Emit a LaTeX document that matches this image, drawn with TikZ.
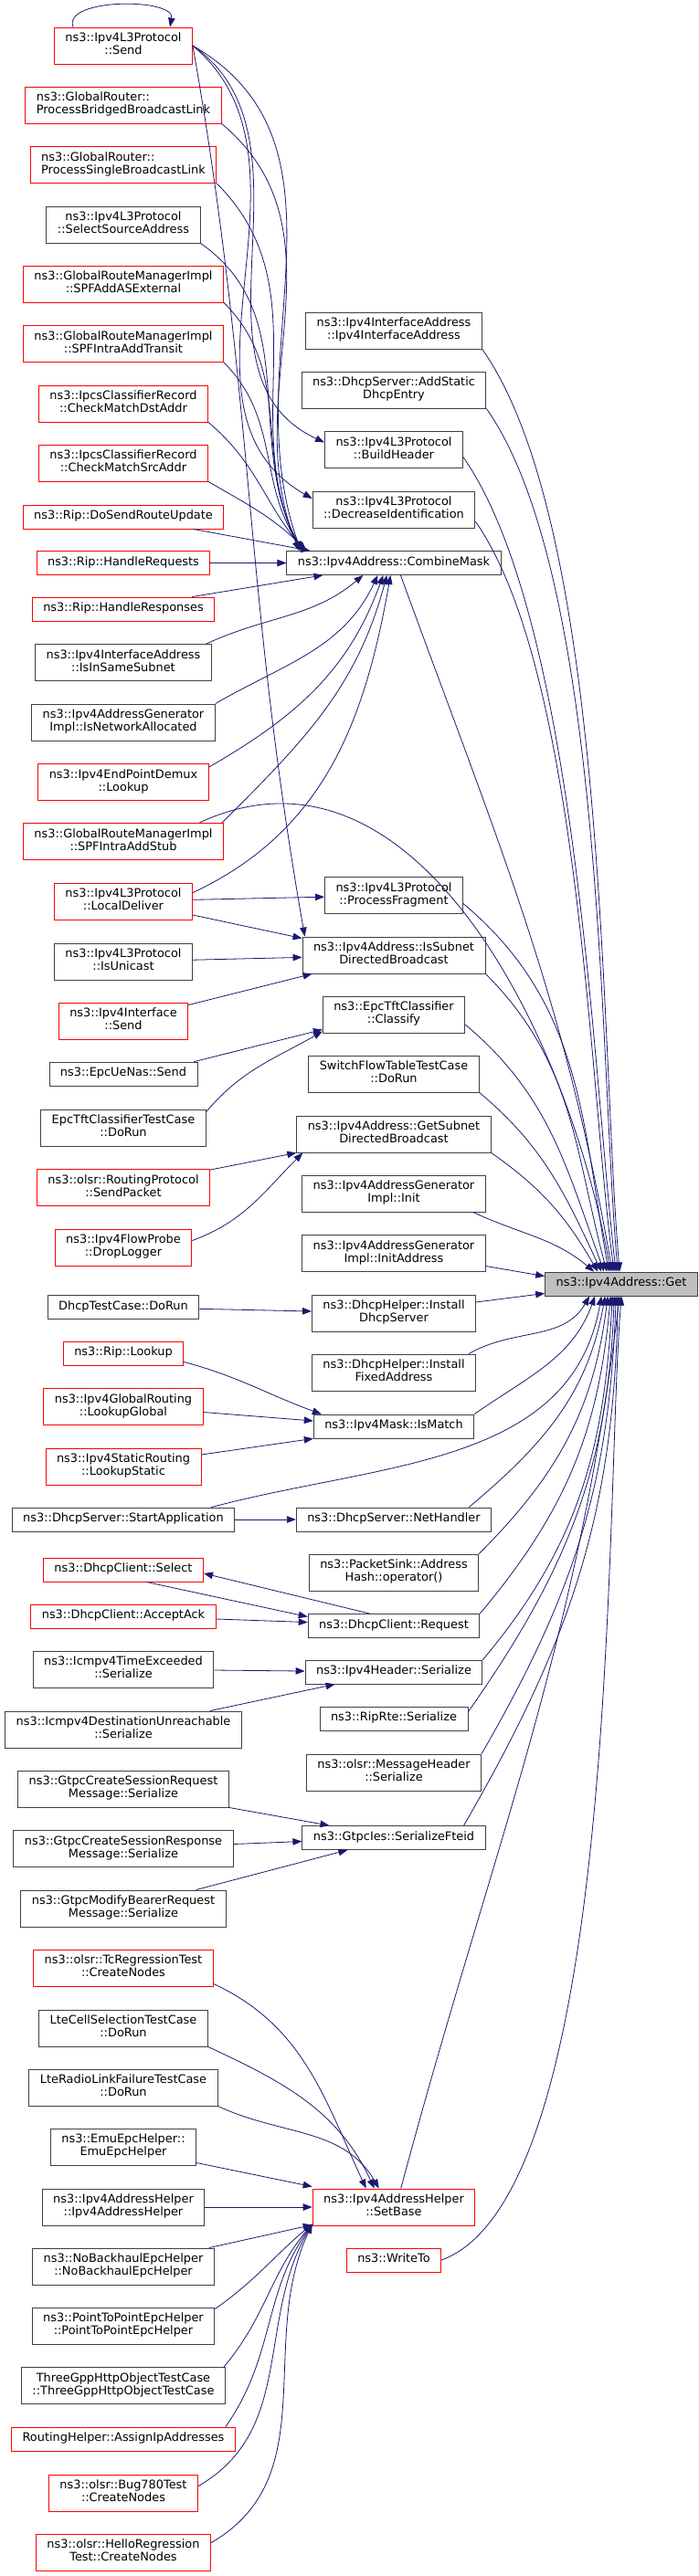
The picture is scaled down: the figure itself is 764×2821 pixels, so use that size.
\documentclass[tikz,border=0pt]{standalone}
\usepackage{fontspec}
\setmainfont{DejaVu Sans}
\usetikzlibrary{arrows.meta}
\definecolor{edgeblue}{RGB}{25,25,112}
\definecolor{boxgray}{RGB}{64,64,64}
\begin{document}
\begin{tikzpicture}[x=1pt, y=1pt,
	fn/.style={rectangle, draw=boxgray, line width=0.9pt, align=center, inner xsep=12pt, inner ysep=5.8pt,
		font=\fontsize{12.9pt}{14.3pt}\selectfont, execute at begin node=\strut, execute at end node=\strut},
	trunc/.style={fn, draw=red},
	call/.style={draw=edgeblue, line width=0.8pt, -{Triangle[length=10pt,width=7.5pt]}}]
	\useasboundingbox (0,0) rectangle (764,-2821);
	\node (Send)       at (135,   -50)   [trunc]             {ns3::Ipv4L3Protocol\\::Send};
	\node (PBBL)       at (135,  -115)   [trunc, align=left] {ns3::GlobalRouter::\\ProcessBridgedBroadcastLink};
	\node (PSBL)       at (135,  -180.5) [trunc, align=left] {ns3::GlobalRouter::\\ProcessSingleBroadcastLink};
	\node (SelSrc)     at (135,  -246)   [fn]    {ns3::Ipv4L3Protocol\\::SelectSourceAddress};
	\node (ASExt)      at (135,  -311)   [trunc] {ns3::GlobalRouteManagerImpl\\::SPFAddASExternal};
	\node (Transit)    at (135,  -376.5) [trunc] {ns3::GlobalRouteManagerImpl\\::SPFIntraAddTransit};
	\node (DstAddr)    at (135,  -442)   [trunc] {ns3::IpcsClassifierRecord\\::CheckMatchDstAddr};
	\node (SrcAddr)    at (135,  -507)   [trunc] {ns3::IpcsClassifierRecord\\::CheckMatchSrcAddr};
	\node (RouteUpd)   at (135,  -566)   [trunc] {ns3::Rip::DoSendRouteUpdate};
	\node (HandleReq)  at (135,  -616.5) [trunc] {ns3::Rip::HandleRequests};
	\node (HandleResp) at (135,  -667)   [trunc] {ns3::Rip::HandleResponses};
	\node (SameSubnet) at (135,  -725.5) [fn]    {ns3::Ipv4InterfaceAddress\\::IsInSameSubnet};
	\node (NetAlloc)   at (135,  -791)   [fn]    {ns3::Ipv4AddressGenerator\\Impl::IsNetworkAllocated};
	\node (Demux)      at (135,  -856.5) [trunc] {ns3::Ipv4EndPointDemux\\::Lookup};
	\node (Stub)       at (135,  -921.5) [trunc] {ns3::GlobalRouteManagerImpl\\::SPFIntraAddStub};
	\node (LocalDel)   at (135,  -987)   [trunc] {ns3::Ipv4L3Protocol\\::LocalDeliver};
	\node (Unicast)    at (135, -1053)   [fn]    {ns3::Ipv4L3Protocol\\::IsUnicast};
	\node (IfSend)     at (135, -1118)   [trunc] {ns3::Ipv4Interface\\::Send};
	\node (UeNas)      at (135, -1176)   [fn]    {ns3::EpcUeNas::Send};
	\node (TftTest)    at (135, -1235)   [fn]    {EpcTftClassifierTestCase\\::DoRun};
	\node (SendPkt)    at (135, -1300.5) [trunc] {ns3::olsr::RoutingProtocol\\::SendPacket};
	\node (DropLog)    at (135, -1366)   [trunc] {ns3::Ipv4FlowProbe\\::DropLogger};
	\node (DhcpTest)   at (135, -1431.5) [fn]    {DhcpTestCase::DoRun};
	\node (RipLookup)  at (135, -1482)   [trunc] {ns3::Rip::Lookup};
	\node (LookGlob)   at (135, -1540.5) [trunc] {ns3::Ipv4GlobalRouting\\::LookupGlobal};
	\node (LookStat)   at (135, -1606)   [trunc] {ns3::Ipv4StaticRouting\\::LookupStatic};
	\node (StartApp)   at (135, -1664)   [fn]    {ns3::DhcpServer::StartApplication};
	\node (Select)     at (135, -1719)   [trunc] {ns3::DhcpClient::Select};
	\node (AcceptAck)  at (135, -1770)   [trunc] {ns3::DhcpClient::AcceptAck};
	\node (TimeExc)    at (135, -1828)   [fn]    {ns3::Icmpv4TimeExceeded\\::Serialize};
	\node (DestUnr)    at (135, -1894)   [fn]    {ns3::Icmpv4DestinationUnreachable\\::Serialize};
	\node (SessReq)    at (135, -1959)   [fn]    {ns3::GtpcCreateSessionRequest\\Message::Serialize};
	\node (SessResp)   at (135, -2024.5) [fn]    {ns3::GtpcCreateSessionResponse\\Message::Serialize};
	\node (ModBearer)  at (135, -2090)   [fn]    {ns3::GtpcModifyBearerRequest\\Message::Serialize};
	\node (TcTest)     at (135, -2155)   [trunc] {ns3::olsr::TcRegressionTest\\::CreateNodes};
	\node (CellSel)    at (135, -2221)   [fn]    {LteCellSelectionTestCase\\::DoRun};
	\node (RadioFail)  at (135, -2286)   [fn]    {LteRadioLinkFailureTestCase\\::DoRun};
	\node (EmuEpc)     at (135, -2351)   [fn]    {ns3::EmuEpcHelper::\\EmuEpcHelper};
	\node (AddrHelper) at (135, -2417)   [fn]    {ns3::Ipv4AddressHelper\\::Ipv4AddressHelper};
	\node (NoBack)     at (135, -2482)   [fn]    {ns3::NoBackhaulEpcHelper\\::NoBackhaulEpcHelper};
	\node (PtoP)       at (135, -2547)   [fn]    {ns3::PointToPointEpcHelper\\::PointToPointEpcHelper};
	\node (HttpTest)   at (135, -2612.5) [fn]    {ThreeGppHttpObjectTestCase\\::ThreeGppHttpObjectTestCase};
	\node (AssignIp)   at (135, -2671)   [trunc] {RoutingHelper::AssignIpAddresses};
	\node (BugTest)    at (135, -2730)   [trunc] {ns3::olsr::Bug780Test\\::CreateNodes};
	\node (HelloTest)  at (135, -2795)   [trunc] {ns3::olsr::HelloRegression\\Test::CreateNodes};
	\node (IfAddr)     at (431,  -362)   [fn]    {ns3::Ipv4InterfaceAddress\\::Ipv4InterfaceAddress};
	\node (StaticDhcp) at (431,  -427)   [fn]    {ns3::DhcpServer::AddStatic\\DhcpEntry};
	\node (BuildHdr)   at (431,  -492.5) [fn]    {ns3::Ipv4L3Protocol\\::BuildHeader};
	\node (DecrId)     at (431,  -558)   [fn]    {ns3::Ipv4L3Protocol\\::DecreaseIdentification};
	\node (CombMask)   at (431,  -616.5) [fn]    {ns3::Ipv4Address::CombineMask};
	\node (Fragment)   at (431,  -980.5) [fn]    {ns3::Ipv4L3Protocol\\::ProcessFragment};
	\node (IsSubBc)    at (431, -1046)   [fn]    {ns3::Ipv4Address::IsSubnet\\DirectedBroadcast};
	\node (Classify)   at (431, -1111)   [fn]    {ns3::EpcTftClassifier\\::Classify};
	\node (SwitchTest) at (431, -1176)   [fn]    {SwitchFlowTableTestCase\\::DoRun};
	\node (GetSubBc)   at (431, -1242)   [fn]    {ns3::Ipv4Address::GetSubnet\\DirectedBroadcast};
	\node (GenInit)    at (431, -1307)   [fn]    {ns3::Ipv4AddressGenerator\\Impl::Init};
	\node (GenInitAd)  at (431, -1372.5) [fn]    {ns3::Ipv4AddressGenerator\\Impl::InitAddress};
	\node (InstServer) at (431, -1438)   [fn]    {ns3::DhcpHelper::Install\\DhcpServer};
	\node (InstFixed)  at (431, -1503)   [fn]    {ns3::DhcpHelper::Install\\FixedAddress};
	\node (IsMatch)    at (431, -1562)   [fn]    {ns3::Ipv4Mask::IsMatch};
	\node (NetHandler) at (431, -1664)   [fn]    {ns3::DhcpServer::NetHandler};
	\node (AddrHash)   at (431, -1722)   [fn]    {ns3::PacketSink::Address\\Hash::operator()};
	\node (Request)    at (431, -1780.5) [fn]    {ns3::DhcpClient::Request};
	\node (HdrSer)     at (431, -1831)   [fn]    {ns3::Ipv4Header::Serialize};
	\node (RipRte)     at (431, -1882)   [fn]    {ns3::RipRte::Serialize};
	\node (MsgHdr)     at (431, -1941)   [fn]    {ns3::olsr::MessageHeader\\::Serialize};
	\node (Fteid)      at (431, -2012.5) [fn]    {ns3::GtpcIes::SerializeFteid};
	\node (SetBase)    at (431, -2417)   [trunc] {ns3::Ipv4AddressHelper\\::SetBase};
	\node (WriteTo)    at (431, -2475)   [trunc] {ns3::WriteTo};
	\node (Get)        at (680, -1406)   [fn, fill=black!25] {ns3::Ipv4Address::Get};
	\draw[call] ([xshift=21pt]Send.north west) .. controls +(-12,32) and +(6,32) .. ([xshift=127pt]Send.north west);
	\draw[call] (Send.east) to[out=-35,in=155] ([yshift=8pt]BuildHdr.west);
	\draw[call] (Send.east) to[out=-40,in=150] ([yshift=12pt]DecrId.west);
	\draw[call] (Send.east) to[out=-30,in=110] ([xshift=16pt]CombMask.north west);
	\draw[call] (Send.east) to[out=-80,in=100] ([xshift=3pt]IsSubBc.north west);
	\draw[call] (PBBL.south east) to[out=-40,in=112] ([xshift=14pt]CombMask.north west);
	\draw[call] (PSBL.south east) to[out=-45,in=115] ([xshift=15pt]CombMask.north west);
	\draw[call] (SelSrc.south east) to[out=-35,in=118] ([xshift=17pt]CombMask.north west);
	\draw[call] (ASExt.south east) to[out=-45,in=120] ([xshift=18pt]CombMask.north west);
	\draw[call] (Transit.south east) to[out=-45,in=125] ([xshift=19pt]CombMask.north west);
	\draw[call] (DstAddr.south east) to[out=-40,in=130] ([xshift=20pt]CombMask.north west);
	\draw[call] (SrcAddr.south east) to[out=-30,in=135] ([xshift=22pt]CombMask.north west);
	\draw[call] ([xshift=-34pt]RouteUpd.south east) -- ([xshift=26pt]CombMask.north west);
	\draw[call] (HandleReq) -- (CombMask);
	\draw[call] ([xshift=-25pt]HandleResp.north east) -- ([xshift=40pt]CombMask.south west);
	\draw[call] ([xshift=-6pt]SameSubnet.north east) to[out=25,in=-140] ([xshift=84pt]CombMask.south west);
	\draw[call] (NetAlloc.north east) to[out=30,in=-115] ([xshift=100pt]CombMask.south west);
	\draw[call] ([yshift=-4pt]Demux.north east) to[out=30,in=-110] ([xshift=106pt]CombMask.south west);
	\draw[call] ([xshift=-2pt]Stub.north east) to[out=45,in=-105] ([xshift=110pt]CombMask.south west);
	\draw[call] ([yshift=-11pt]LocalDel.north east) to[out=25,in=-100] ([xshift=114pt]CombMask.south west);
	\draw[call] (LocalDel) -- (Fragment);
	\draw[call] ([yshift=-15pt]LocalDel.east) -- ([yshift=-2pt]IsSubBc.north west);
	\draw[call] (Unicast) -- (IsSubBc);
	\draw[call] ([yshift=-3pt]IfSend.north east) -- ([xshift=11pt]IsSubBc.south west);
	\draw[call] ([xshift=-4pt]UeNas.north east) -- ([yshift=4pt]Classify.south west);
	\draw[call] ([yshift=-3pt]TftTest.north east) to[out=50,in=-150] ([yshift=2pt]Classify.south west);
	\draw[call] ([yshift=-1pt]SendPkt.north east) -- (GetSubBc.south west);
	\draw[call] ([yshift=-13pt]DropLog.north east) to[out=20,in=-135] ([xshift=7pt]GetSubBc.south west);
	\draw[call] (DhcpTest) -- ([yshift=2pt]InstServer.west);
	\draw[call] ([yshift=4pt]RipLookup.south east) to[out=-15,in=160] ([xshift=9pt]IsMatch.north west);
	\draw[call] ([yshift=-6pt]LookGlob.east) -- ([yshift=6pt]IsMatch.west);
	\draw[call] ([yshift=13pt]LookStat.east) -- (IsMatch.south west);
	\draw[call] (StartApp) -- (NetHandler);
	\draw[call] ([xshift=-63pt]Select.south east) -- ([yshift=10pt]Request.west);
	\draw[call] ([xshift=68pt]Request.north west) -- ([yshift=-4pt]Select.east);
	\draw[call] ([yshift=-3pt]AcceptAck.east) -- ([yshift=4pt]Request.west);
	\draw[call] (TimeExc) -- (HdrSer);
	\draw[call] ([xshift=-35pt]DestUnr.north east) -- ([xshift=33pt]HdrSer.south west);
	\draw[call] (SessReq.south east) -- ([xshift=30pt]Fteid.north west);
	\draw[call] ([yshift=5pt]SessResp.east) -- ([yshift=-4pt]Fteid.west);
	\draw[call] ([xshift=-33pt]ModBearer.north east) -- ([xshift=50pt]Fteid.south west);
	\draw[call] ([yshift=3pt]TcTest.south east) to[out=-25,in=115] ([xshift=59pt]SetBase.north west);
	\draw[call] (CellSel.south east) to[out=-25,in=115] ([xshift=68pt]SetBase.north west);
	\draw[call] (RadioFail.south east) to[out=-25,in=120] ([xshift=73pt]SetBase.north west);
	\draw[call] ([yshift=3pt]EmuEpc.south east) -- ([yshift=2pt]SetBase.north west);
	\draw[call] (AddrHelper) -- (SetBase);
	\draw[call] ([xshift=-6pt]NoBack.north east) -- ([yshift=1pt]SetBase.south west);
	\draw[call] ([yshift=-2pt]PtoP.north east) to[out=35,in=-140] ([yshift=2pt]SetBase.south west);
	\draw[call] ([xshift=-2pt]HttpTest.north east) to[out=50,in=-130] ([yshift=2pt]SetBase.south west);
	\draw[call] ([xshift=-11pt]AssignIp.north east) to[out=55,in=-125] ([yshift=2pt]SetBase.south west);
	\draw[call] ([yshift=-13pt]BugTest.north east) to[out=30,in=-120] ([yshift=2pt]SetBase.south west);
	\draw[call] ([yshift=-10pt]HelloTest.north east) to[out=30,in=-115] ([yshift=2pt]SetBase.south west);
	\draw[call] (IfAddr.south east) .. controls +(138,-197) and +(-21,240) .. ([xshift=82pt]Get.north west);
	\draw[call] (StaticDhcp.south east) .. controls +(130,-185) and +(-20,225) .. ([xshift=80pt]Get.north west);
	\draw[call] ([yshift=-8pt]BuildHdr.east) .. controls +(125,-180) and +(-25,210) .. ([xshift=78pt]Get.north west);
	\draw[call] ([yshift=-13pt]DecrId.east) .. controls +(115,-165) and +(-27,195) .. ([xshift=76pt]Get.north west);
	\draw[call] ([xshift=125pt]CombMask.south west) to[out=-70,in=100] ([xshift=74pt]Get.north west);
	\draw[call] ([xshift=-27pt]Stub.north east) to[out=25,in=100] ([xshift=72pt]Get.north west);
	\draw[call] ([yshift=-9pt]Fragment.east) to[out=-40,in=100] ([xshift=70pt]Get.north west);
	\draw[call] (IsSubBc.south east) to[out=-45,in=105] ([xshift=68pt]Get.north west);
	\draw[call] ([yshift=-11pt]Classify.east) to[out=-40,in=110] ([xshift=65pt]Get.north west);
	\draw[call] (SwitchTest.south east) to[out=-40,in=115] ([xshift=62pt]Get.north west);
	\draw[call] (GetSubBc.south east) to[out=-35,in=120] ([xshift=58pt]Get.north west);
	\draw[call] ([xshift=-14pt]GenInit.south east) to[out=-25,in=140] ([xshift=54pt]Get.north west);
	\draw[call] ([yshift=-14pt]GenInitAd.east) -- ([yshift=-5pt]Get.north west);
	\draw[call] ([yshift=12pt]InstServer.east) -- ([yshift=3pt]Get.south west);
	\draw[call] ([xshift=-8pt]InstFixed.north east) to[out=30,in=-120] ([xshift=49pt]Get.south west);
	\draw[call] (IsMatch.north east) to[out=35,in=-110] ([xshift=55pt]Get.south west);
	\draw[call] ([xshift=-26pt]StartApp.north east) to[out=15,in=-100] ([xshift=62pt]Get.south west);
	\draw[call] ([xshift=-25pt]NetHandler.north east) to[out=40,in=-100] ([xshift=66pt]Get.south west);
	\draw[call] (AddrHash.north east) to[out=45,in=-97] ([xshift=69pt]Get.south west);
	\draw[call] (Request.north east) to[out=50,in=-95] ([xshift=72pt]Get.south west);
	\draw[call] (HdrSer.north east) to[out=50,in=-93] ([xshift=74pt]Get.south west);
	\draw[call] ([yshift=-6pt]RipRte.north east) to[out=55,in=-92] ([xshift=76pt]Get.south west);
	\draw[call] (MsgHdr.north east) to[out=60,in=-92] ([xshift=78pt]Get.south west);
	\draw[call] ([xshift=-24pt]Fteid.north east) to[out=60,in=-91] ([xshift=80pt]Get.south west);
	\draw[call] ([xshift=97pt]SetBase.north west) .. controls +(102,381) and +(-48,-391) .. ([xshift=82pt]Get.south west);
	\draw[call] (WriteTo.east) .. controls +(197,72) and +(-18,-209) .. ([xshift=84pt]Get.south west);
\end{tikzpicture}
\end{document}
